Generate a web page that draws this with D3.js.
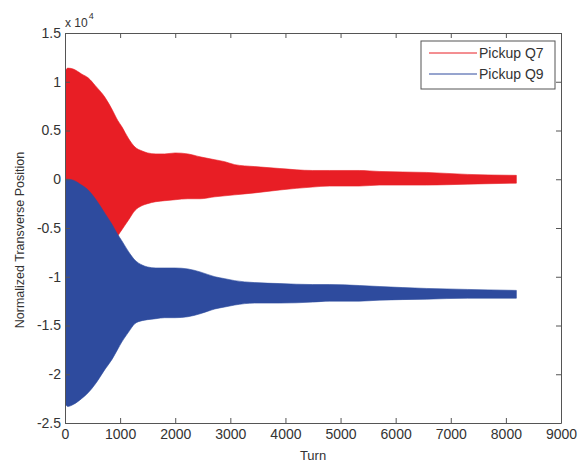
<!DOCTYPE html>
<html>
<head>
<meta charset="utf-8">
<script src="https://cdn.jsdelivr.net/npm/d3@7"></script>
<style>
  body { margin: 0; background: #fff; }
  text { font-family: "Liberation Sans", Arial, sans-serif; fill: #333; }
</style>
</head>
<body>
<div id="chart"></div>
<script>
// envelope of the two pickup signals, values in units of 10^4
const turns   = [0, 50, 150, 300, 420, 550, 725, 850, 960, 1030, 1150, 1270, 1400, 1500, 1650, 1810, 2000, 2230, 2450, 2720, 2900, 3080, 3440, 3900, 4490, 4800, 5340, 5700, 6560, 7300, 8190];
const q7Upper = [1.10, 1.14, 1.13, 1.08, 1.04, 0.96, 0.84, 0.72, 0.60, 0.54, 0.42, 0.33, 0.29, 0.27, 0.26, 0.26, 0.27, 0.26, 0.23, 0.20, 0.18, 0.15, 0.13, 0.11, 0.09, 0.09, 0.09, 0.08, 0.07, 0.05, 0.04];
const q7Lower = [-1.12, -1.14, -1.13, -1.08, -1.04, -0.96, -0.84, -0.72, -0.58, -0.52, -0.42, -0.32, -0.27, -0.25, -0.23, -0.22, -0.21, -0.20, -0.20, -0.18, -0.17, -0.16, -0.14, -0.11, -0.08, -0.07, -0.07, -0.06, -0.06, -0.05, -0.04];
const q9Upper = [0.00, 0.00, -0.01, -0.06, -0.11, -0.20, -0.35, -0.46, -0.57, -0.63, -0.74, -0.83, -0.88, -0.90, -0.91, -0.91, -0.91, -0.92, -0.95, -1.00, -1.02, -1.04, -1.06, -1.07, -1.08, -1.08, -1.09, -1.10, -1.12, -1.13, -1.14];
const q9Lower = [-2.30, -2.33, -2.31, -2.25, -2.19, -2.10, -1.95, -1.85, -1.74, -1.67, -1.57, -1.48, -1.45, -1.44, -1.43, -1.42, -1.42, -1.41, -1.38, -1.33, -1.31, -1.29, -1.27, -1.27, -1.26, -1.25, -1.25, -1.24, -1.23, -1.22, -1.22];

const seriesNames = ["Pickup Q7", "Pickup Q9"];
const colors = ["#e81e25", "#2e4b9e"];
const xTicks = [0, 1000, 2000, 3000, 4000, 5000, 6000, 7000, 8000, 9000];
const yTicks = [-2.5, -2, -1.5, -1, -0.5, 0, 0.5, 1, 1.5];

const width = 579, height = 466;
const margin = {left: 65, right: 18, top: 33, bottom: 43};

const svg = d3.select("#chart").append("svg")
    .attr("width", width)
    .attr("height", height);

svg.append("rect").attr("width", width).attr("height", height).attr("fill", "#fff");

const x = d3.scaleLinear().domain([0, 9000]).range([margin.left, width - margin.right]);
const y = d3.scaleLinear().domain([-2.5, 1.5]).range([height - margin.bottom, margin.top]);

svg.append("clipPath").attr("id", "plotclip")
  .append("rect")
    .attr("x", margin.left).attr("y", margin.top)
    .attr("width", width - margin.left - margin.right)
    .attr("height", height - margin.top - margin.bottom);

const series = [
    turns.map((t, i) => ({t: t, hi: q7Upper[i], lo: q7Lower[i]})),
    turns.map((t, i) => ({t: t, hi: q9Upper[i], lo: q9Lower[i]}))
];

const area = d3.area()
    .x(d => x(d.t))
    .y0(d => y(d.lo))
    .y1(d => y(d.hi))
    .curve(d3.curveMonotoneX);

svg.append("g")
    .attr("clip-path", "url(#plotclip)")
    .selectAll("path")
    .data(series)
    .enter().append("path")
      .attr("d", area)
      .attr("fill", (d, i) => colors[i])
      .attr("stroke", (d, i) => colors[i])
      .attr("stroke-width", 0.6);

// axes, matlab style ticks pointing inward
const fmt = d => String(d);

const gx = svg.append("g")
    .attr("transform", `translate(0, ${height - margin.bottom})`)
    .call(d3.axisBottom(x).tickValues(xTicks).tickFormat(fmt).tickSize(-5).tickSizeOuter(0).tickPadding(6));
const gy = svg.append("g")
    .attr("transform", `translate(${margin.left}, 0)`)
    .call(d3.axisLeft(y).tickValues(yTicks).tickFormat(fmt).tickSize(-5).tickSizeOuter(0).tickPadding(4));
const gt = svg.append("g")
    .attr("transform", `translate(0, ${margin.top})`)
    .call(d3.axisTop(x).tickValues(xTicks).tickFormat("").tickSize(-5).tickSizeOuter(0));
const gr = svg.append("g")
    .attr("transform", `translate(${width - margin.right}, 0)`)
    .call(d3.axisRight(y).tickValues(yTicks).tickFormat("").tickSize(-5).tickSizeOuter(0));

[gx, gy, gt, gr].forEach(g => {
    g.selectAll("path, line").attr("stroke", "#555");
    g.selectAll("text").attr("font-size", 14).attr("fill", "#333")
        .style("font-family", "'Liberation Sans', Arial, sans-serif");
});

// x 10^4 multiplier
const mult = svg.append("text")
    .attr("x", margin.left)
    .attr("y", 27)
    .attr("font-size", 12);
mult.append("tspan").text("x 10");
mult.append("tspan").attr("dy", -8).attr("dx", 1).attr("font-size", 9).text("4");

svg.append("text")
    .attr("x", x(4500))
    .attr("y", 460)
    .attr("text-anchor", "middle")
    .attr("font-size", 13)
    .text("Turn");

svg.append("text")
    .attr("transform", "translate(24, 240) rotate(-90)")
    .attr("text-anchor", "middle")
    .attr("font-size", 12.5)
    .text("Normalized Transverse Position");

// legend
const legend = svg.append("g").attr("transform", "translate(421, 41)");
legend.append("rect")
    .attr("width", 134).attr("height", 48)
    .attr("fill", "#fff").attr("stroke", "#555");
seriesNames.forEach((name, i) => {
    const ly = 12 + i * 21;
    legend.append("line")
        .attr("x1", 8).attr("x2", 56).attr("y1", ly).attr("y2", ly)
        .attr("stroke", colors[i]).attr("stroke-width", 1);
    legend.append("text")
        .attr("x", 58).attr("y", ly + 5)
        .attr("font-size", 14)
        .text(name);
});
</script>
</body>
</html>
